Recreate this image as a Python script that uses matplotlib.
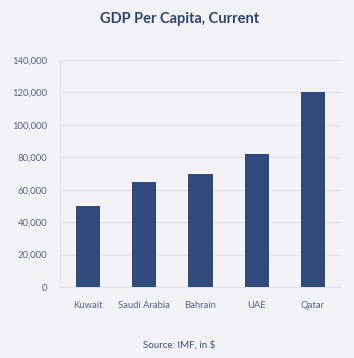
import matplotlib.pyplot as plt
from matplotlib.ticker import FuncFormatter

countries = ['Kuwait', 'Saudi Arabia', 'Bahrain', 'UAE', 'Qatar']
gdp_per_capita = [50000, 65000, 70000, 82000, 120000]
y_ticks = [0, 20000, 40000, 60000, 80000, 100000, 120000, 140000]

bg = '#f3f3f6'
bar_color = '#304a7d'
text_color = '#56628c'
grid_color = '#e2e2e7'

plt.rcParams['font.family'] = ['Lato', 'DejaVu Sans']

fig = plt.figure(figsize=(3.54, 3.58), dpi=100, facecolor=bg)
ax = fig.add_axes([0.1695, 0.1983, 0.7935, 0.6341], facecolor=bg)

ax.bar(range(len(countries)), gdp_per_capita, width=0.43, color=bar_color, zorder=3)

ax.set_xlim(-0.5, len(countries) - 0.5)
ax.set_ylim(0, 140000)
ax.set_yticks(y_ticks)
ax.yaxis.set_major_formatter(FuncFormatter(lambda v, p: f'{int(v):,}'))
ax.set_xticks(range(len(countries)))
ax.set_xticklabels(countries)

ax.grid(axis='y', color=grid_color, linewidth=0.9, zorder=0)
for s in ['top', 'right']:
    ax.spines[s].set_visible(False)
ax.spines['left'].set_color(grid_color)
ax.spines['bottom'].set_color(grid_color)
ax.tick_params(length=0, labelsize=6.8, colors=text_color)
ax.tick_params(axis='y', pad=9)
ax.tick_params(axis='x', pad=10)

fig.text(0.506, 0.947, 'GDP Per Capita, Current', ha='center', va='center',
         fontsize=10.5, fontweight='bold', color='#2e4473')
fig.text(0.506, 0.036, 'Source: IMF, in $', ha='center', va='center',
         fontsize=7, color='#3d4f80')

fig.savefig('out.png', dpi=100, facecolor=bg)
